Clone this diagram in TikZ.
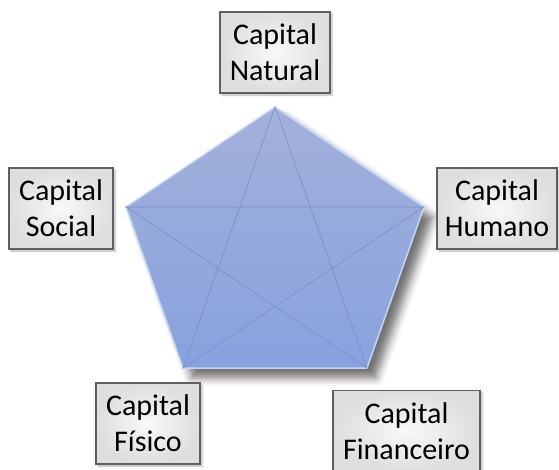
\documentclass[tikz,border=0pt]{standalone}
\usepackage{fontspec}
\setmainfont{Carlito}
\usetikzlibrary{shadows.blur}
\definecolor{pentTop}{RGB}{163,176,218}
\definecolor{pentBot}{RGB}{136,162,223}
\definecolor{pentLine}{RGB}{124,142,192}
\definecolor{pentEdge}{RGB}{196,214,244}
\definecolor{boxLine}{RGB}{95,95,95}
\tikzset{
  capbox/.style={draw=boxLine, line width=1.5pt, inner color=gray!5, outer color=gray!26,
    minimum height=81pt, align=center, inner sep=0pt,
    font=\fontsize{30}{36}\selectfont,
    blur shadow={shadow xshift=2pt, shadow yshift=-2pt, shadow blur radius=2pt, shadow opacity=30}}
}
\begin{document}
\begin{tikzpicture}[x=1pt,y=-1pt]
    \useasboundingbox (0,0) rectangle (559,469);

    % Corners of the pentagon
    \coordinate (vNat) at (275,107);
    \coordinate (vHum) at (424,207);
    \coordinate (vFin) at (367,368);
    \coordinate (vFis) at (183,368);
    \coordinate (vSoc) at (126,207);

    % Pentagon with shadow
    \path[top color=pentTop, bottom color=pentBot, draw=pentEdge, line width=1.5pt, line join=round,
      blur shadow={shadow xshift=9pt, shadow yshift=-10pt, shadow blur radius=8pt, shadow opacity=55}]
      (vNat) -- (vHum) -- (vFin) -- (vFis) -- (vSoc) -- cycle;

    % Star inside
    \draw[pentLine, line width=0.6pt] (vNat) -- (vFis) -- (vHum) -- (vSoc) -- (vFin) -- cycle;

    % Boxes
    \node[capbox, minimum width=110pt] (natural) at (275,52.5) {Capital\\Natural};
    \node[capbox, minimum width=104pt] (social) at (61,208.5) {Capital\\Social};
    \node[capbox, minimum width=120pt] (humano) at (497,208.5) {Capital\\Humano};
    \node[capbox, minimum width=104pt] (fisico) at (148,423.5) {Capital\\Físico};
    \node[capbox, minimum width=147pt] (financeiro) at (406.5,431) {Capital\\Financeiro};
\end{tikzpicture}
\end{document}
